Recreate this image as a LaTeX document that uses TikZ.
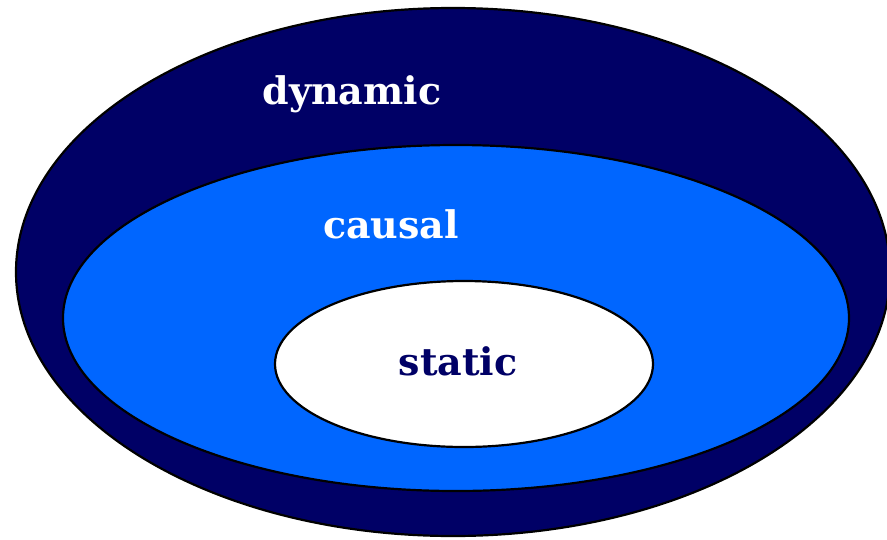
\documentclass[tikz,border=0pt]{standalone}
\usepackage{fontspec}
\setmainfont{DejaVu Serif}
\usepackage{tikz}
\usetikzlibrary{shapes.geometric}
\definecolor{NightNavy}{HTML}{000066}
\definecolor{CausalBlue}{HTML}{0066FF}

\begin{document}
\begin{tikzpicture}[x=1pt,y=-1pt,
    ring/.style={draw=black,line width=2.2pt,ellipse,inner sep=0pt},
    lbl/.style={font=\fontsize{38}{42}\selectfont\bfseries}]
    \useasboundingbox (0,0) rectangle (887,539);
    \begin{scope}
      \clip (0,0) rectangle (887,539);
      \node[ring,fill=NightNavy,minimum width=874pt,minimum height=528pt] (dynamicset) at (453,272) {};
    \end{scope}
    \node[ring,fill=CausalBlue,minimum width=786pt,minimum height=346pt] (causalset) at (456,318) {};
    \node[ring,fill=white,minimum width=378pt,minimum height=166pt] (staticset) at (464,364) {};
    \node[lbl,text=white] (dynamiclbl) at (352,94) {dynamic};
    \node[lbl,text=white] (causallbl) at (391,224) {causal};
    \node[lbl,text=NightNavy] (staticlbl) at (458,361) {static};
  \end{tikzpicture}
\end{document}
